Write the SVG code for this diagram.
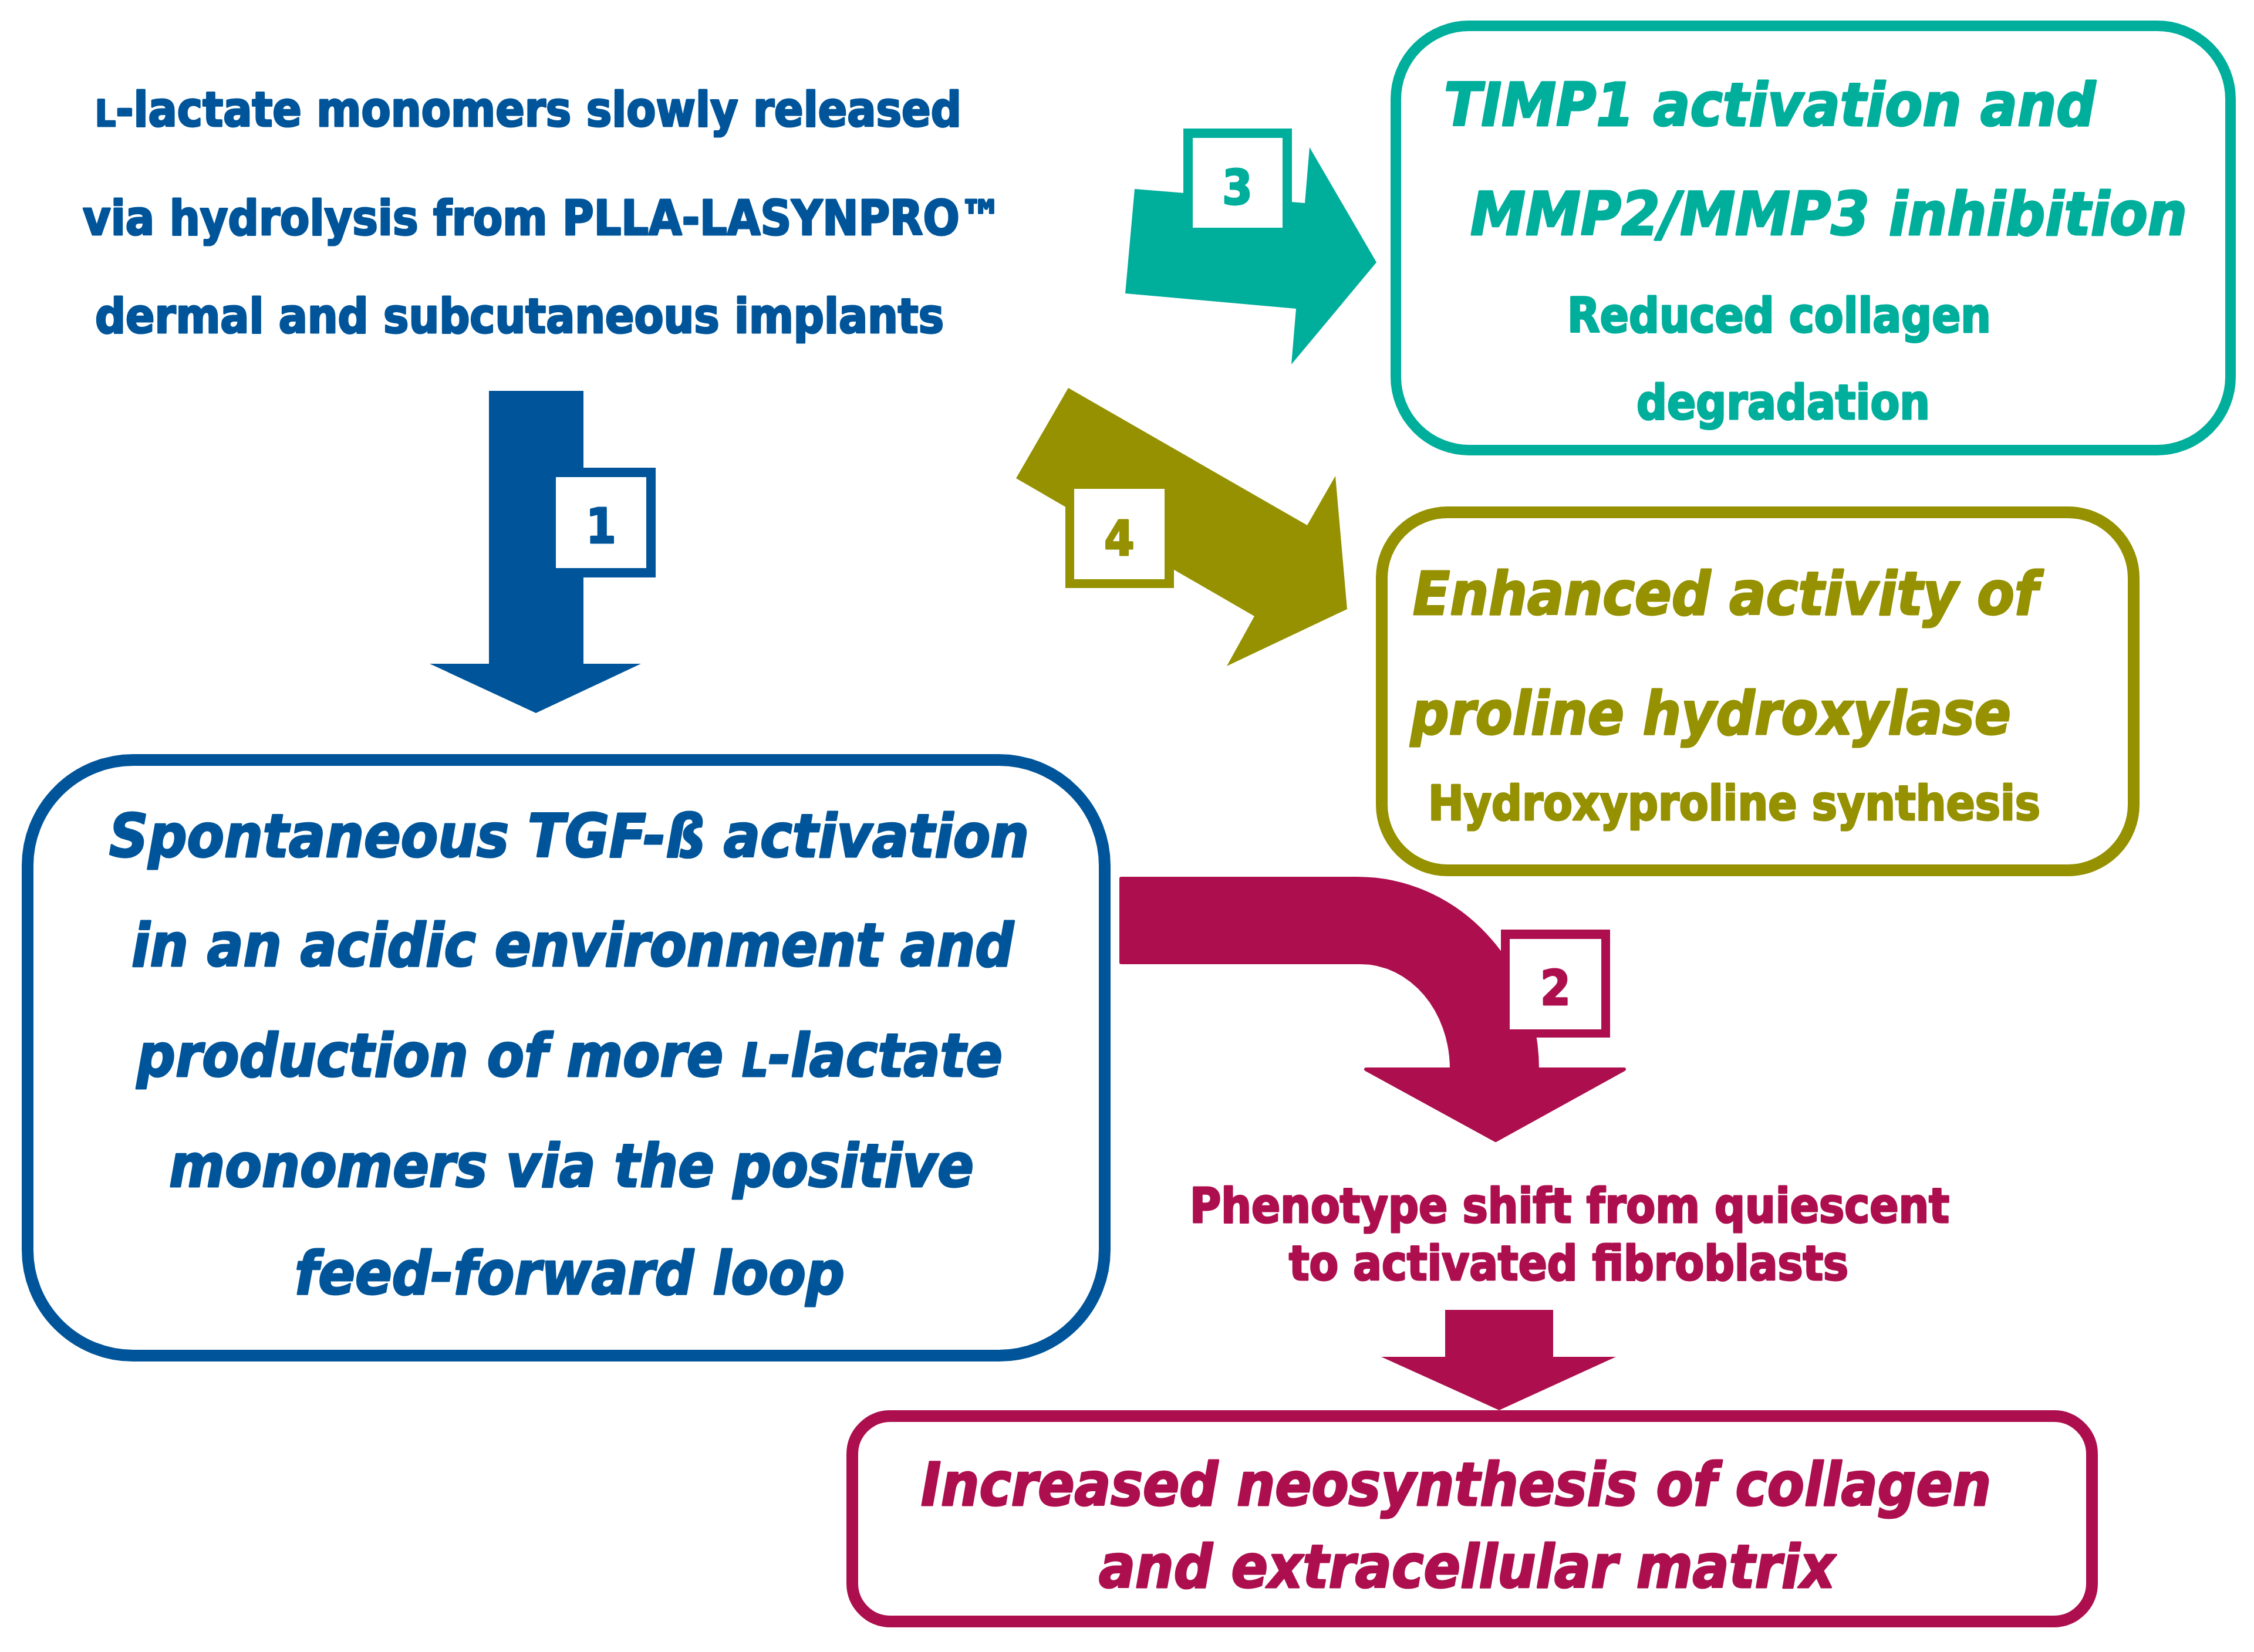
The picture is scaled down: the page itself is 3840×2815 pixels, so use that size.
<svg xmlns="http://www.w3.org/2000/svg" width="3840" height="2815" viewBox="0 0 3840 2815">
<style>
.t{font-family:"DejaVu Sans Condensed","DejaVu Sans",Verdana,sans-serif;font-weight:bold;stroke-width:3px;stroke-linejoin:round}
.i{font-style:italic;font-size:102px}
.r{font-size:82px}
.d{font-size:82px;text-anchor:middle}
.sc{font-size:62px}
.blue{fill:#00559a}.teal{fill:#00ae9c}.olive{fill:#959100}.mag{fill:#ad0f4e}
text.blue{stroke:#00559a}text.teal{stroke:#00ae9c}text.olive{stroke:#959100}text.mag{stroke:#ad0f4e}
.wb{fill:#ffffff}
</style>
<rect x="0" y="0" width="3840" height="2815" fill="#ffffff"/>

<g id="connectors">
  <g id="arrow1">
    <polygon class="blue" points="833,666 994,666 994,1131 1092,1131 913,1215 732,1131 833,1131"/>
    <rect class="blue" x="931" y="797" width="186" height="187"/>
    <rect class="wb" x="947" y="813" width="154" height="155"/>
    <text class="t d blue" x="1024" y="925">1</text>
  </g>
  <g id="arrow3">
    <polygon class="teal" points="1933,322 2223,346 2231,251 2345,447 2200,621 2208,526 1917,500"/>
    <rect class="teal" x="2016" y="219" width="185" height="181"/>
    <rect class="wb" x="2032" y="235" width="153" height="153"/>
    <text class="t d teal" x="2108" y="348">3</text>
  </g>
  <g id="arrow4">
    <polygon class="olive" points="1820,661 2227,895 2275,811 2295,1038 2090,1135 2137,1050 1731,815"/>
    <rect class="olive" x="1815" y="817" width="185" height="185"/>
    <rect class="wb" x="1830" y="833" width="154" height="154"/>
    <text class="t d olive" x="1907" y="946">4</text>
  </g>
  <g id="arrow2">
    <path class="mag" stroke="#ad0f4e" stroke-width="6" stroke-linejoin="round" d="M1910,1497 L2312,1497 C2482,1497 2619,1642 2619,1822 L2767,1822 L2548,1943 L2327,1822 L2473,1822 C2473,1721 2404,1640 2318,1640 L1910,1640 Z"/>
    <rect class="mag" x="2557" y="1584" width="186" height="184"/>
    <rect class="wb" x="2572" y="1600" width="156" height="154"/>
    <text class="t d mag" x="2650" y="1712">2</text>
  </g>
  <g id="arrow5">
    <polygon class="mag" points="2462,2232 2646,2232 2646,2312 2753,2312 2554,2403 2353,2312 2462,2312"/>
  </g>
</g>

<g id="source">
  <text class="t r blue" x="162" y="215" textLength="1476" lengthAdjust="spacingAndGlyphs"><tspan class="sc">L</tspan>-lactate monomers slowly released</text>
  <text class="t r blue" x="141" y="400" textLength="1567" lengthAdjust="spacingAndGlyphs">via hydrolysis from PLLA-LASYNPRO™</text>
  <text class="t r blue" x="162" y="567" textLength="1446" lengthAdjust="spacingAndGlyphs">dermal and subcutaneous implants</text>
</g>

<g id="tgf">
  <rect x="47" y="1295" width="1835" height="1015" rx="180" ry="180" fill="#ffffff" stroke="#00559a" stroke-width="20"/>
  <text class="t i blue" x="186" y="1460" textLength="1567" lengthAdjust="spacingAndGlyphs">Spontaneous TGF-ß activation</text>
  <text class="t i blue" x="224" y="1646" textLength="1503" lengthAdjust="spacingAndGlyphs">in an acidic environment and</text>
  <text class="t i blue" x="233" y="1834" textLength="1475" lengthAdjust="spacingAndGlyphs">production of more <tspan font-size="78px">L</tspan>-lactate</text>
  <text class="t i blue" x="288" y="2022" textLength="1371" lengthAdjust="spacingAndGlyphs">monomers via the positive</text>
  <text class="t i blue" x="502" y="2205" textLength="937" lengthAdjust="spacingAndGlyphs">feed-forward loop</text>
</g>

<g id="timp">
  <rect x="2378" y="44" width="1422" height="723" rx="125" ry="125" fill="#ffffff" stroke="#00ae9c" stroke-width="18"/>
  <text class="t i teal" x="2460" y="214" textLength="1110" lengthAdjust="spacingAndGlyphs">TIMP1 activation and</text>
  <text class="t i teal" x="2505" y="400" textLength="1221" lengthAdjust="spacingAndGlyphs">MMP2/MMP3 inhibition</text>
  <text class="t r teal" x="2670" y="566" textLength="722" lengthAdjust="spacingAndGlyphs">Reduced collagen</text>
  <text class="t r teal" x="2788" y="714" textLength="500" lengthAdjust="spacingAndGlyphs">degradation</text>
</g>

<g id="proline">
  <rect x="2354" y="873" width="1281" height="610" rx="112" ry="112" fill="#ffffff" stroke="#959100" stroke-width="20"/>
  <text class="t i olive" x="2407" y="1047" textLength="1065" lengthAdjust="spacingAndGlyphs">Enhanced activity of</text>
  <text class="t i olive" x="2403" y="1251" textLength="1023" lengthAdjust="spacingAndGlyphs">proline hydroxylase</text>
  <text class="t r olive" x="2433" y="1397" textLength="1043" lengthAdjust="spacingAndGlyphs">Hydroxyproline synthesis</text>
</g>

<g id="phenotype">
  <text class="t r mag" x="2027" y="2083" textLength="1294" lengthAdjust="spacingAndGlyphs">Phenotype shift from quiescent</text>
  <text class="t r mag" x="2196" y="2181" textLength="953" lengthAdjust="spacingAndGlyphs">to activated fibroblasts</text>
</g>

<g id="collagen">
  <rect x="1452" y="2413" width="2112" height="350" rx="65" ry="65" fill="#ffffff" stroke="#ad0f4e" stroke-width="20"/>
  <text class="t i mag" x="1569" y="2565" textLength="1823" lengthAdjust="spacingAndGlyphs">Increased neosynthesis of collagen</text>
  <text class="t i mag" x="1872" y="2705" textLength="1254" lengthAdjust="spacingAndGlyphs">and extracellular matrix</text>
</g>
</svg>
